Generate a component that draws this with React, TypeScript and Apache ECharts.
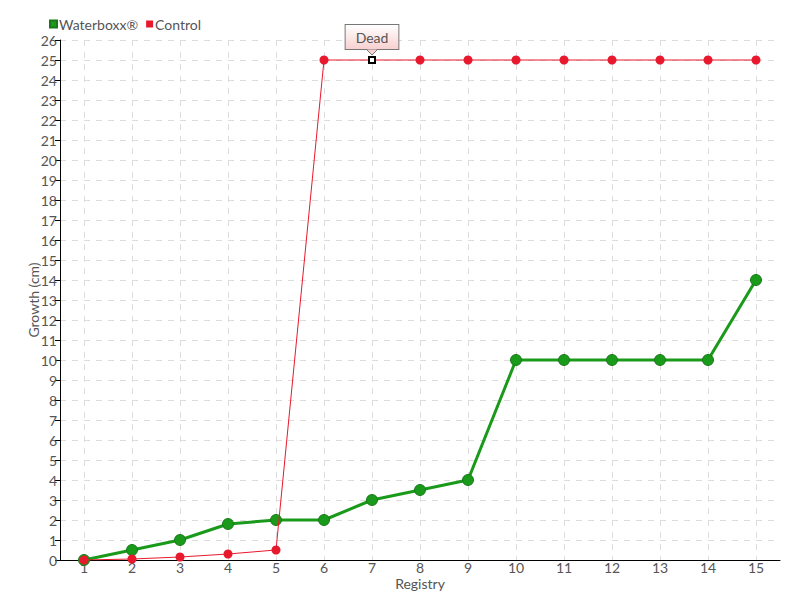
import React, { useEffect, useRef } from "react";
import * as echarts from "echarts";

const categories = ["1", "2", "3", "4", "5", "6", "7", "8", "9", "10", "11", "12", "13", "14", "15"];
const waterboxx = [0, 0.5, 1, 1.8, 2, 2, 3, 3.5, 4, 10, 10, 10, 10, 10, 14];
const control = [0, 0.05, 0.15, 0.3, 0.5, 25, 25, 25, 25, 25, 25, 25, 25, 25, 25];
const deadIndex = 6;
const deadText = "Dead";

const FONT = "Lato, sans-serif";

export default function App() {
  const ref = useRef<HTMLDivElement>(null);
  useEffect(() => {
    if (!ref.current) return;
    const chart = echarts.init(ref.current, undefined, { renderer: "svg" });
    const controlData: any[] = control.map((v, i) =>
      i === deadIndex
        ? {
            value: v,
            symbol: "rect",
            symbolSize: 6,
            itemStyle: { color: "#ffffff", borderColor: "#000000", borderWidth: 2 },
            label: {
              show: true,
              formatter: deadText,
              position: "top",
              distance: 7,
              color: "#555",
              fontFamily: FONT,
              fontSize: 14,
              padding: [5, 10, 5, 10],
              borderColor: "#777",
              borderWidth: 1,
              backgroundColor: new echarts.graphic.LinearGradient(0, 0, 0, 1, [
                { offset: 0, color: "#ffffff" },
                { offset: 1, color: "#f8d0d0" },
              ]),
            },
          }
        : v
    );
    chart.setOption({
      animation: false,
      textStyle: { fontFamily: FONT },
      legend: {
        left: 44,
        top: 12,
        itemWidth: 7,
        itemHeight: 7,
        itemGap: 8,
        icon: "rect",
        textStyle: { color: "#555", fontSize: 14, fontFamily: FONT, padding: [0, 0, 0, -3] },
        data: ["Waterboxx®", "Control"],
      },
      grid: { left: 60, right: 20, top: 40, bottom: 40 },
      xAxis: {
        type: "category",
        data: categories,
        boundaryGap: true,
        name: "Registry",
        nameLocation: "middle",
        nameGap: 16,
        nameMoveOverlap: false,
        nameTextStyle: { color: "#555", fontSize: 14, fontFamily: FONT },
        axisLine: { lineStyle: { color: "#000", width: 1 } },
        axisTick: { alignWithLabel: true, length: 5, lineStyle: { color: "#000" } },
        axisLabel: { color: "#555", fontSize: 14, margin: 0, fontFamily: FONT },
        splitLine: { show: true, alignWithLabel: true, lineStyle: { color: "#ddd", type: [6, 6] } },
      } as any,
      yAxis: {
        type: "value",
        min: 0,
        max: 26,
        interval: 1,
        name: "Growth (cm)",
        nameLocation: "middle",
        nameGap: 20,
        nameMoveOverlap: false,
        nameRotate: 90,
        nameTextStyle: { color: "#555", fontSize: 14, fontFamily: FONT },
        axisLine: { show: true, lineStyle: { color: "#000", width: 1 } },
        axisTick: { show: true, length: 5, lineStyle: { color: "#000" } },
        axisLabel: { color: "#555", fontSize: 14, margin: 3, fontFamily: FONT },
        splitLine: { show: true, lineStyle: { color: "#ddd", type: [6, 6] } },
      } as any,
      series: [
        {
          name: "Waterboxx®",
          type: "line",
          data: waterboxx,
          symbol: "circle",
          symbolSize: 11,
          color: "#1a9a1a",
          lineStyle: { width: 3, color: "#1a9a1a" },
          itemStyle: { color: "#1a9a1a", borderColor: "#187818", borderWidth: 1 },
          z: 3,
        },
        {
          name: "Control",
          type: "line",
          data: controlData,
          symbol: "circle",
          symbolSize: 9,
          color: "#e8192c",
          lineStyle: { width: 1, color: "#e8192c" },
          itemStyle: { color: "#e8192c" },
          z: 4,
        },
      ],
    });
    const p = chart.convertToPixel({ seriesIndex: 1 }, [deadIndex, control[deadIndex]]) as number[];
    if (p) {
      const bx = p[0];
      const by = p[1] - 10;
      chart.setOption({
        graphic: [
          {
            type: "polygon",
            z: 100,
            shape: { points: [[bx - 5, by - 0.5], [bx + 5, by - 0.5], [bx, by + 5]] },
            style: { fill: "#f8d0d0", stroke: "none" },
          },
          {
            type: "polyline",
            z: 101,
            shape: { points: [[bx - 5, by], [bx, by + 5], [bx + 5, by]] },
            style: { stroke: "#777", lineWidth: 1, fill: "none" },
          },
        ],
      });
    }
    return () => chart.dispose();
  }, []);
  return <div ref={ref} style={{ width: 800, height: 600, position: "absolute", left: 0, top: 0 }} />;
}
